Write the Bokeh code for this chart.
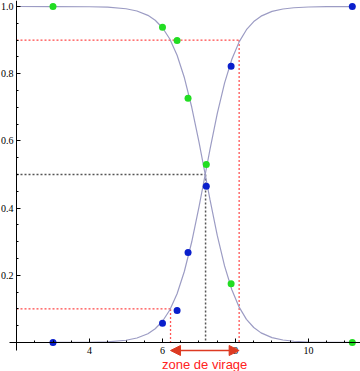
from bokeh.plotting import figure
from bokeh.models import (FixedTicker, NumeralTickFormatter, Arrow, NormalHead,
                          Label, Range1d)
from bokeh.embed import file_html
from bokeh.resources import INLINE

# ---- data ----
# fitted curves (sampled along the drawn curves)
curve_x = [2.0, 3.0, 4.0, 4.5, 5.0, 5.3, 5.6, 5.8, 6.0, 6.2, 6.4, 6.6, 6.8, 7.0,
           7.17, 7.3, 7.5, 7.7, 7.9, 8.1, 8.3, 8.5, 8.7, 9.0, 9.3, 9.6, 10.0, 10.5, 11.2]
curve_blue = [0.0, 0.0001, 0.0007, 0.0021, 0.0067, 0.0133, 0.0262, 0.041, 0.0633,
              0.0968, 0.1452, 0.2121, 0.2991, 0.4034, 0.5, 0.5743, 0.6813, 0.7721,
              0.8431, 0.8948, 0.931, 0.9553, 0.9713, 0.9854, 0.9926, 0.9963, 0.9985,
              0.9995, 0.9999]
curve_green = [1.0, 0.9999, 0.9993, 0.9979, 0.9933, 0.9867, 0.9738, 0.959, 0.9367,
               0.9032, 0.8548, 0.7879, 0.7009, 0.5966, 0.5, 0.4257, 0.3187, 0.2279,
               0.1569, 0.1052, 0.069, 0.0447, 0.0287, 0.0146, 0.0074, 0.0037, 0.0015,
               0.0005, 0.0001]

# measured points
pts_x = [3.0, 6.0, 6.4, 6.7, 7.2, 7.88, 11.2]
pts_green = [1.0, 0.938, 0.899, 0.727, 0.530, 0.175, 0.0]
pts_blue = [0.0, 0.057, 0.095, 0.268, 0.465, 0.822, 1.0]

# guide lines
zone_low = 6.22
zone_high = 8.1
half_x = 7.18
frac_low = 0.1
frac_high = 0.9
frac_half = 0.5

x_major = [4, 6, 8, 10]
x_minor = [2.5, 3, 3.5, 4.5, 5, 5.5, 6.5, 7, 7.5, 8.5, 9, 9.5, 10.5, 11]
y_major = [0.2, 0.4, 0.6, 0.8, 1.0]
y_minor = [0.05, 0.1, 0.15, 0.25, 0.3, 0.35, 0.45, 0.5, 0.55, 0.65, 0.7, 0.75,
           0.85, 0.9, 0.95]

zone_label = "zone de virage"

# ---- figure ----
p = figure(width=360, height=371, output_backend="svg", toolbar_location=None,
           x_range=Range1d(1.5616, 11.4247), y_range=Range1d(-0.0863, 1.0179),
           min_border=0, min_border_left=0, min_border_right=0,
           min_border_top=0, min_border_bottom=0)
p.outline_line_color = None
p.grid.visible = False
p.background_fill_color = "white"
p.border_fill_color = "white"

# axes drawn through the data origin (2, 0)
p.xaxis.fixed_location = 0
p.yaxis.fixed_location = 2
p.xaxis.bounds = (1.82, 11.4247)
p.yaxis.bounds = (-0.024, 1.0179)
p.xaxis.ticker = FixedTicker(ticks=x_major, minor_ticks=x_minor)
p.yaxis.ticker = FixedTicker(ticks=y_major, minor_ticks=y_minor)
p.yaxis.formatter = NumeralTickFormatter(format="0.0")
for ax in (p.xaxis, p.yaxis):
    ax.axis_line_color = "black"
    ax.axis_line_width = 1
    ax.major_tick_in = 4
    ax.major_tick_out = 0
    ax.minor_tick_in = 2
    ax.minor_tick_out = 0
    ax.major_tick_line_color = "black"
    ax.minor_tick_line_color = "black"
    ax.major_label_text_font = "Liberation Serif"
    ax.major_label_text_font_size = "10px"
    ax.major_label_text_color = "black"
p.xaxis.major_label_standoff = 4
p.yaxis.major_label_standoff = 3

# guide lines
red = "#ff1a1a"
p.line([2, zone_high], [frac_high, frac_high], line_color=red, line_width=1, line_dash="2 2")
p.line([zone_high, zone_high], [frac_high, 0], line_color="#ff5555", line_width=1.3, line_dash="2 2")
p.line([2, zone_low], [frac_low, frac_low], line_color=red, line_width=1, line_dash="2 2")
p.line([zone_low, zone_low], [frac_low, 0], line_color="#ff5555", line_width=1.3, line_dash="2 2")
p.line([2, half_x], [frac_half, frac_half], line_color="#555555", line_width=1.5, line_dash="2 2")
p.line([half_x, half_x], [frac_half, 0], line_color="#555555", line_width=1.5, line_dash="2 2")

# curves
p.line(curve_x, curve_green, line_color="#9c9cc4", line_width=1.2)
p.line(curve_x, curve_blue, line_color="#9c9cc4", line_width=1.2)

# points
p.scatter(pts_x, pts_green, marker="circle", size=7, fill_color="#22dd22", line_color=None)
p.scatter(pts_x, pts_blue, marker="circle", size=7, fill_color="#0a1fcc", line_color=None)

# turning zone arrow + text
arrow_col = "#dd3a22"
p.add_layout(Arrow(x_start=zone_low, x_end=zone_high, y_start=-0.0238, y_end=-0.0238,
                   line_color=arrow_col, line_width=1.5,
                   start=NormalHead(size=10, fill_color=arrow_col, line_color=arrow_col),
                   end=NormalHead(size=10, fill_color=arrow_col, line_color=arrow_col)))
p.add_layout(Label(x=7.156, y=-0.0655, text=zone_label, text_align="center",
                   text_baseline="alphabetic", text_font="Liberation Sans",
                   text_font_size="13px", text_color="#ff2222"))

open("out.html", "w").write(file_html(p, INLINE))
